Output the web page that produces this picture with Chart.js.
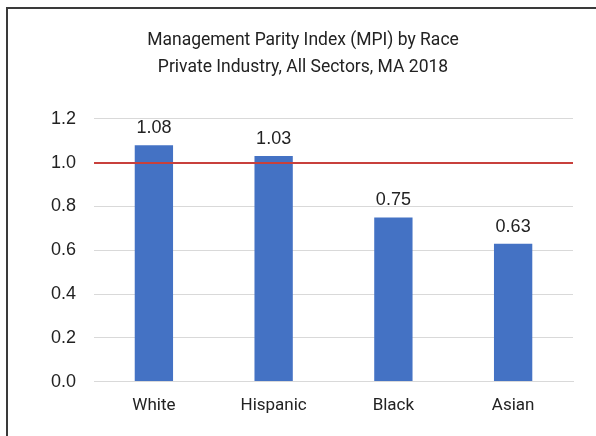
<!DOCTYPE html>
<html>
<head>
<meta charset="utf-8">
<script src="https://cdn.jsdelivr.net/npm/chart.js@4"></script>
<style>
    html, body { margin: 0; padding: 0; background: #fff; }
    #caixa { position: absolute; left: 6px; top: 7px; width: 596px; height: 436px;
             border-top: 2px solid #3a3a3a; border-left: 2px solid #3a3a3a; }
    #wrap { position: absolute; left: 0; top: 0; width: 596px; height: 436px; }
</style>
</head>
<body>
<div id="caixa"></div>
<div id="wrap"><canvas id="graficoMpi"></canvas></div>
<script>
// dados do grafico
const racas = ['White', 'Hispanic', 'Black', 'Asian']
const valoresMpi = [1.08, 1.03, 0.75, 0.63]
const linhaParidade = [1.0]
const tituloLinhas = ['Management Parity Index (MPI) by Race', 'Private Industry, All Sectors, MA 2018']

/* linha vermelha de paridade + rotulos em cima das barras */
const extras = {
    id: 'extras',
    afterDatasetsDraw(chart) {
        const ctx = chart.ctx
        const area = chart.chartArea
        const y = chart.scales.y
        ctx.save()
        linhaParidade.forEach(v => {
            const py = Math.round(y.getPixelForValue(v))
            ctx.fillStyle = '#c8403c'
            ctx.fillRect(area.left, py - 1, area.right - area.left, 2)
        })
        ctx.fillStyle = '#222'
        ctx.font = '18px "Liberation Sans", Arial, sans-serif'
        ctx.textAlign = 'center'
        ctx.textBaseline = 'bottom'
        chart.getDatasetMeta(0).data.forEach((barra, i) => {
            ctx.fillText(valoresMpi[i].toFixed(2), barra.x, barra.y - 8)
        })
        ctx.restore()
    }
}

const grafico = new Chart(document.querySelector('#graficoMpi'), {
    type: 'bar',
    data: {
        labels: racas,
        datasets: [{
            label: 'MPI',
            data: valoresMpi,
            backgroundColor: '#4472c4',
            borderWidth: 0,
            barPercentage: 0.64,
            categoryPercentage: 0.5
        }]
    },
    options: {
        responsive: true,
        maintainAspectRatio: false,
        animation: false,
        devicePixelRatio: 1,
        layout: { padding: { left: 33, right: 23, top: 27, bottom: 14 } },
        plugins: {
            legend: { display: false },
            tooltip: { enabled: false },
            title: {
                display: true,
                text: tituloLinhas,
                color: '#222',
                font: { family: 'Roboto, "Liberation Sans", sans-serif', size: 17.5, weight: 'normal', lineHeight: 1.54 },
                padding: { top: 0, bottom: 38 }
            }
        },
        scales: {
            x: {
                grid: { display: false },
                border: { color: '#d9d9d9' },
                ticks: { color: '#222', padding: 6, font: { family: 'Roboto, "Liberation Sans", sans-serif', size: 17 } }
            },
            y: {
                min: 0,
                max: 1.2,
                ticks: {
                    stepSize: 0.2,
                    color: '#222',
                    padding: 18,
                    font: { family: '"Liberation Sans", Arial, sans-serif', size: 18 },
                    callback: v => v.toFixed(1)
                },
                grid: { color: '#d9d9d9', drawTicks: false },
                border: { display: false }
            }
        }
    },
    plugins: [extras]
})
</script>
</body>
</html>
